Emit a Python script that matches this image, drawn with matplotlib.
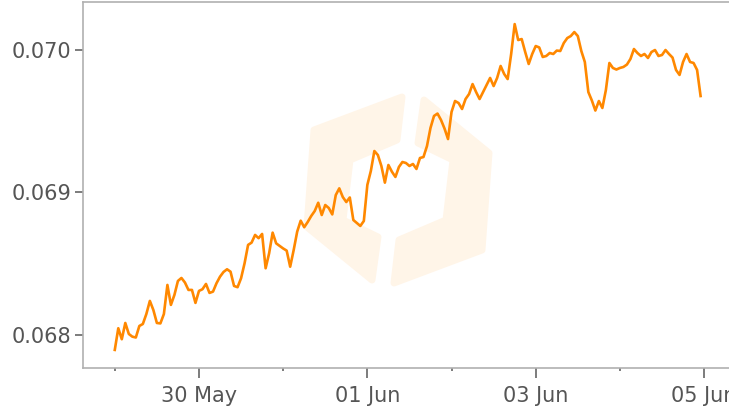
import pandas as pd
import matplotlib
matplotlib.use("Agg")
import matplotlib.pyplot as plt
import matplotlib.dates as mdates
from matplotlib.patches import Polygon

# hourly price series, starting 29 May 00:00
start = "2023-05-29 00:00"
price = [
    0.067895, 0.068047, 0.067970, 0.068084, 0.068007, 0.067988, 0.067982, 0.068063,
    0.068077, 0.068147, 0.068239, 0.068175, 0.068084, 0.068081, 0.068147, 0.068351,
    0.068211, 0.068281, 0.068379, 0.068400, 0.068368, 0.068316, 0.068316, 0.068225,
    0.068309, 0.068321, 0.068358, 0.068295, 0.068304, 0.068363, 0.068409, 0.068442,
    0.068461, 0.068444, 0.068344, 0.068335, 0.068398, 0.068503, 0.068632, 0.068648,
    0.068702, 0.068679, 0.068709, 0.068468, 0.068573, 0.068718, 0.068643, 0.068625,
    0.068607, 0.068592, 0.068479, 0.068596, 0.068725, 0.068802, 0.068756, 0.068793,
    0.068835, 0.068870, 0.068928, 0.068842, 0.068912, 0.068891, 0.068846, 0.068982,
    0.069029, 0.068968, 0.068933, 0.068965, 0.068807, 0.068786, 0.068765, 0.068800,
    0.069053, 0.069151, 0.069291, 0.069263, 0.069186, 0.069069, 0.069193, 0.069146,
    0.069109, 0.069179, 0.069214, 0.069207, 0.069186, 0.069200, 0.069165, 0.069242,
    0.069249, 0.069326, 0.069453, 0.069537, 0.069554, 0.069509, 0.069449, 0.069375,
    0.069565, 0.069642, 0.069628, 0.069586, 0.069656, 0.069691, 0.069761, 0.069705,
    0.069656, 0.069705, 0.069754, 0.069804, 0.069747, 0.069804, 0.069888, 0.069832,
    0.069796, 0.069972, 0.070182, 0.070070, 0.070077, 0.069986, 0.069902, 0.069972,
    0.070028, 0.070018, 0.069951, 0.069958, 0.069979, 0.069972, 0.069996, 0.069993,
    0.070049, 0.070084, 0.070098, 0.070126, 0.070098, 0.069993, 0.069916, 0.069705,
    0.069646, 0.069575, 0.069642, 0.069593, 0.069719, 0.069909, 0.069874, 0.069863,
    0.069874, 0.069881, 0.069898, 0.069937, 0.070007, 0.069979, 0.069958, 0.069972,
    0.069944, 0.069986, 0.070000, 0.069958, 0.069965, 0.070000, 0.069972, 0.069947,
    0.069860, 0.069825, 0.069916, 0.069972, 0.069916, 0.069909, 0.069860, 0.069677,
]
times = pd.date_range(start, periods=len(price), freq="h")

y_ticks = [0.068, 0.069, 0.070]

W, H = 729, 412
fig = plt.figure(figsize=(W / 100, H / 100), dpi=100)
ax = fig.add_axes([83 / W, 44 / H, 646 / W, 366 / H])

# faint logo watermark behind the line (figure pixels, y from top)
logo_left = [(402, 97), (397, 140), (350, 160), (343, 220), (378, 237),
             (372, 280), (307, 227), (314, 130)]
logo_right = [(796 - x, 380 - y) for x, y in logo_left]
for pts in (logo_left, logo_right):
    fpts = [(x / W, 1 - y / H) for x, y in pts]
    ax.add_patch(Polygon(fpts, closed=True, transform=fig.transFigure,
                         facecolor="#FFF5E8", edgecolor="#FFF5E8",
                         linewidth=5, joinstyle="round", zorder=1))

ax.plot(times, price, color="#FF8800", linewidth=1.9, zorder=3)

t0 = pd.Timestamp(start)
ax.set_xlim(t0 - pd.Timedelta(hours=9.06), t0 + pd.Timedelta(hours=175.1))
ax.set_ylim(0.067768, 0.070337)

ax.xaxis.set_major_locator(mdates.DayLocator(bymonthday=[30, 1, 3, 5]))
ax.xaxis.set_minor_locator(mdates.DayLocator(bymonthday=[29, 31, 2, 4]))
ax.xaxis.set_major_formatter(mdates.DateFormatter("%d %b"))
ax.set_yticks(y_ticks)
ax.set_yticklabels(["%.3f" % v for v in y_ticks])

for s in ["left", "top", "bottom"]:
    ax.spines[s].set_color("#b0b0b0")
    ax.spines[s].set_linewidth(1.2)
ax.spines["right"].set_visible(False)

ax.tick_params(axis="both", which="major", labelsize=15, labelcolor="#555555",
               color="#666666", width=1.2)
ax.tick_params(axis="x", which="major", length=7, pad=6)
ax.tick_params(axis="x", which="minor", length=2.5, width=1.2, color="#666666")
ax.tick_params(axis="y", which="major", length=5.5, pad=3)

fig.savefig("out.png", dpi=100)
